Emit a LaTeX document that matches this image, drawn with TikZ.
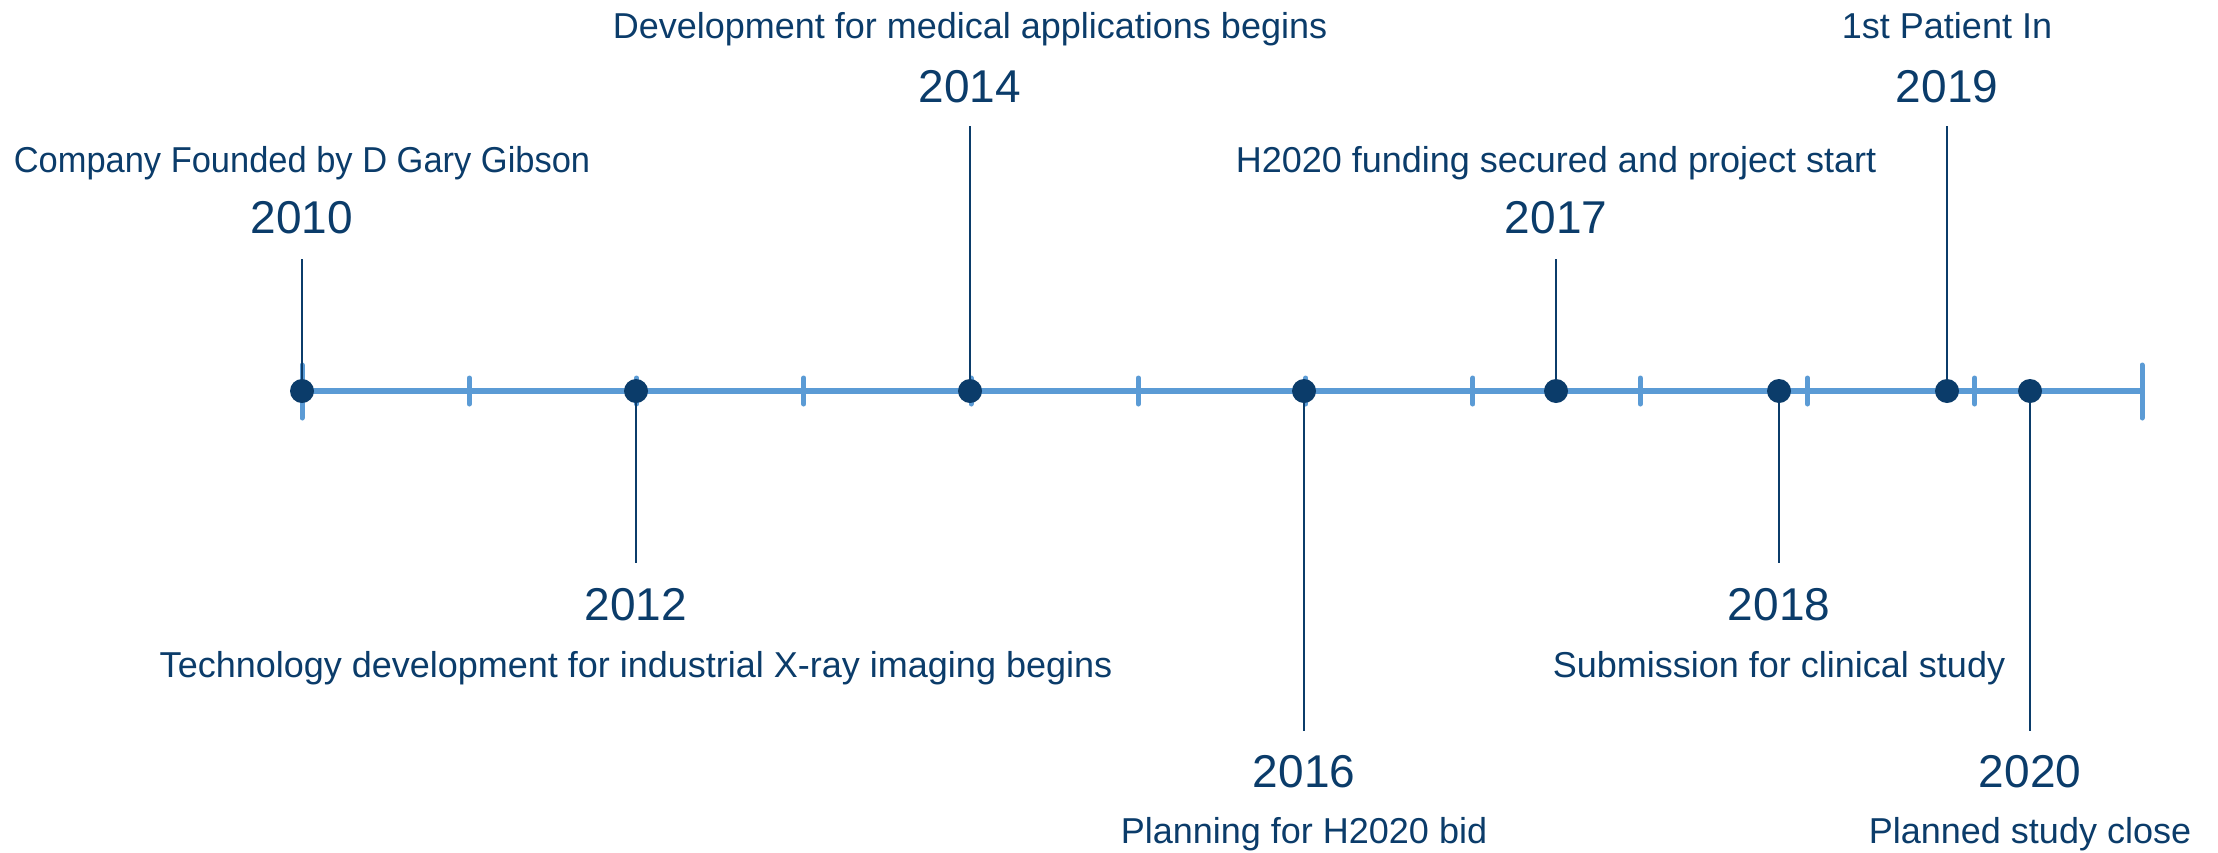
\documentclass[tikz,border=0pt]{standalone}
\usepackage{fontspec}
\setmainfont{Liberation Sans}
\definecolor{axisblue}{HTML}{5B9BD5}
\definecolor{darkblue}{HTML}{0B3C6A}
\begin{document}
\begin{tikzpicture}[x=1pt,y=-1pt,
  axisline/.style={axisblue, line width=6pt},
  smalltick/.style={axisblue, line width=5pt, line cap=round},
  stemline/.style={darkblue, line width=2pt},
  eventdot/.style={circle, fill=darkblue, draw=none, inner sep=0pt, minimum size=24pt},
  yearlabel/.style={anchor=base, text=darkblue, inner sep=0pt, font=\fontsize{46}{50}\selectfont},
  desclabel/.style={anchor=base, text=darkblue, inner sep=0pt, font=\fontsize{36}{40}\selectfont}]
\useasboundingbox (0,0) rectangle (2218,852);
% axis
\coordinate (axL) at (302,391);
\coordinate (axR) at (2142,391);
\draw[axisline] (axL) -- (axR);
\foreach \i in {1,...,10} {
  \draw[smalltick] (302+167.27*\i,378) -- (302+167.27*\i,404);
}
\draw[smalltick] (302,365) -- (302,418);
\draw[smalltick] (2142,365) -- (2142,418);
% events: x / id / year / description / stem end y / year baseline / desc baseline
\foreach \x/\id/\yr/\desc/\se/\yb/\db in {
  302/a/2010/\scalebox{0.957}[1]{Company Founded by D Gary Gibson}/259/233/172,
  636/b/2012/Technology development for industrial X-ray imaging begins/563/620/677,
  970/c/2014/Development for medical applications begins/126/102/38,
  1304/d/2016/Planning for H2020 bid/731/787/843,
  1556/e/2017/H2020 funding secured and project start/259/233/172,
  1779/f/2018/Submission for clinical study/563/620/677,
  1947/g/2019/1st Patient In/126/102/38,
  2030/h/2020/Planned study close/731/787/843} {
  \coordinate (dot\id) at (\x,391);
  \coordinate (end\id) at (\x,\se);
  \node[yearlabel] (year\id) at (\x,\yb) {\yr};
  \node[desclabel] (desc\id) at (\x,\db) {\desc};
  \draw[stemline] (dot\id) -- (end\id);
  \node[eventdot] (ev\id) at (dot\id) {};
}
\end{tikzpicture}
\end{document}
